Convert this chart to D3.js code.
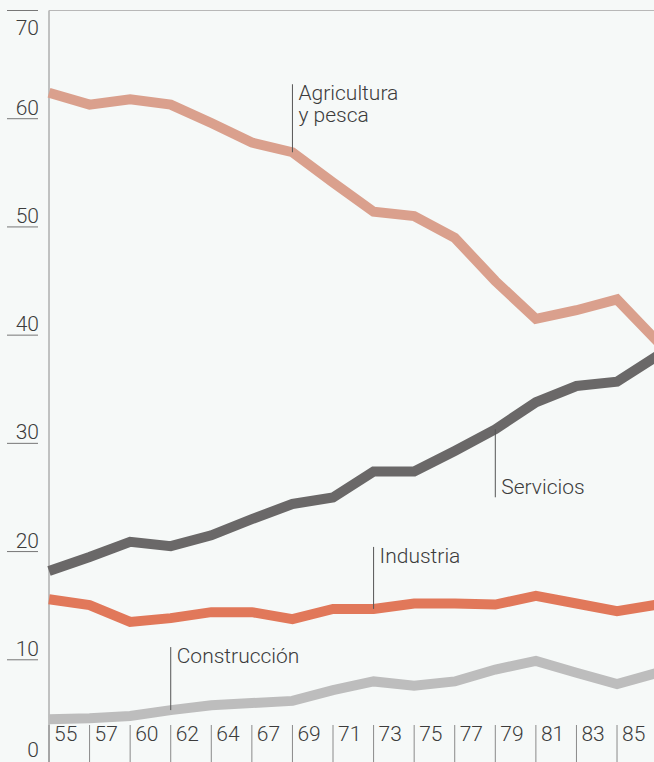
<!DOCTYPE html>
<html>
<head>
<meta charset="utf-8">
<script src="https://cdn.jsdelivr.net/npm/d3@7"></script>
<style>
  body { margin: 0; background: #f6f9f8; }
  svg { display: block; }
  text { font-family: Roboto, "Liberation Sans", sans-serif; font-weight: 300; fill: #3c3c3c; }
</style>
</head>
<body>
<svg id="chart" width="654" height="762"></svg>
<script>
// años (el último queda fuera del recorte)
var years = ["55", "57", "60", "62", "64", "67", "69", "71", "73", "75", "77", "79", "81", "83", "85", "87"];
var yTicks = [0, 10, 20, 30, 40, 50, 60, 70];

var agricultura  = [62.4, 61.3, 61.8, 61.3, 59.6, 57.8, 56.9, 54.1, 51.4, 51.0, 49.0, 45.0, 41.5, 42.3, 43.3, 39.4];
var servicios    = [18.2, 19.5, 20.9, 20.5, 21.5, 23.0, 24.4, 25.0, 27.4, 27.4, 29.3, 31.3, 33.8, 35.3, 35.7, 38.1];
var industria    = [15.6, 15.05, 13.5, 13.85, 14.4, 14.4, 13.75, 14.7, 14.7, 15.2, 15.2, 15.1, 15.9, 15.2, 14.5, 15.1];
var construccion = [4.5, 4.6, 4.8, 5.35, 5.8, 6.0, 6.2, 7.2, 8.0, 7.6, 8.0, 9.1, 9.9, 8.8, 7.75, 8.8];

var series = [
    {name: ["Agricultura", "y pesca"], values: agricultura, color: "#daa08d", labelAt: "69", ly: -68},
    {name: ["Servicios"], values: servicios, color: "#6a6868", labelAt: "79", ly: 68},
    {name: ["Industria"], values: industria, color: "#e1785a", labelAt: "73", ly: -62},
    {name: ["Construcción"], values: construccion, color: "#bdbdbd", labelAt: "62", ly: -63}
];

var svg = d3.select("#chart");

var x = d3.scalePoint().domain(years).range([49, 657.6]);
var y = d3.scaleLinear().domain([0, 70]).range([768, 10.5]);

// marco
svg.append("line")
    .attr("x1", 49).attr("x2", 49)
    .attr("y1", y(70)).attr("y2", 762)
    .style("stroke", "#8a8a8a").style("stroke-width", 1);
svg.append("line")
    .attr("x1", 49).attr("x2", 654)
    .attr("y1", y(70)).attr("y2", y(70))
    .style("stroke", "#b8b8b8").style("stroke-width", 1);

// eje y: rayitas a la izquierda con el número encima
var yAxis = svg.append("g");
yAxis.selectAll("line")
    .data(yTicks.filter(function(d) { return d > 0; }))
    .enter().append("line")
    .attr("x1", 7).attr("x2", 38)
    .attr("y1", function(d) { return y(d); })
    .attr("y2", function(d) { return y(d); })
    .style("stroke", "#777").style("stroke-width", 1);
yAxis.selectAll("text")
    .data(yTicks)
    .enter().append("text")
    .attr("x", 39)
    .attr("y", function(d) {
        if (d == 70) return y(d) + 24;
        if (d == 0) return 757;
        return y(d) - 4;
    })
    .attr("text-anchor", "end")
    .style("font-size", "21px")
    .text(function(d) { return d; });

// eje x (el 87 no se ve en el original)
var xAxis = svg.append("g");
xAxis.selectAll("line")
    .data(years)
    .enter().append("line")
    .attr("x1", function(d) { return x(d); })
    .attr("x2", function(d) { return x(d); })
    .attr("y1", 725).attr("y2", 762)
    .style("stroke", "#8a8a8a").style("stroke-width", 1);
xAxis.selectAll("text")
    .data(years.slice(0, years.length - 1))
    .enter().append("text")
    .attr("x", function(d) { return x(d) + 5; })
    .attr("y", 741)
    .style("font-size", "21px")
    .text(function(d) { return d; });

// líneas
var line = d3.line()
    .x(function(d, i) { return x(years[i]); })
    .y(function(d) { return y(d); });

svg.append("g")
    .selectAll("path")
    .data(series)
    .enter().append("path")
    .attr("d", function(d) { return line(d.values); })
    .style("fill", "none")
    .style("stroke", function(d) { return d.color; })
    .style("stroke-width", 10)
    .style("stroke-linejoin", "miter");

// etiquetas con su guía
series.forEach(function(s) {
    var i = years.indexOf(s.labelAt);
    var px = x(s.labelAt);
    var py = y(s.values[i]);
    var g = svg.append("g");
    g.append("line")
        .attr("x1", px).attr("x2", px)
        .attr("y1", py).attr("y2", py + s.ly)
        .style("stroke", "#555").style("stroke-width", 1);
    var top = Math.min(py, py + s.ly);
    var t = g.append("text")
        .attr("x", px + 6)
        .attr("y", s.ly < 0 ? top + 16 : py + s.ly - 3)
        .style("font-size", "21px");
    s.name.forEach(function(n, k) {
        t.append("tspan").attr("x", px + 6).attr("dy", k == 0 ? 0 : 22).text(n);
    });
});
</script>
</body>
</html>
